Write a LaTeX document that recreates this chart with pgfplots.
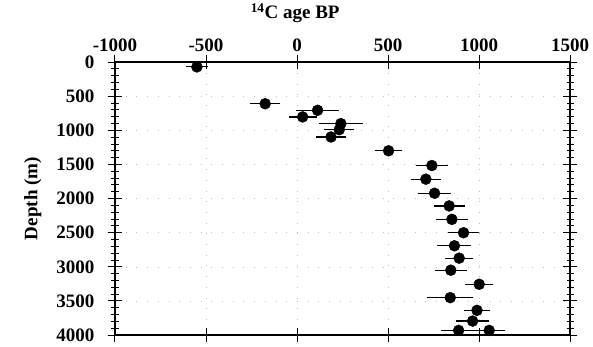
\documentclass[border=0pt]{standalone}
\usepackage{pgfplots}
\pgfplotsset{compat=1.18}
\usepackage{fontspec}
\setmainfont{Liberation Serif}
\pgfplotstableread{
x y ex
-550 70 45
-175 610 65
113 706 100
31 803 60
241 901 105
232 990 65
187 1097 68
503 1299 60
741 1515 73
708 1715 64
756 1921 72
836 2107 68
851 2304 71
915 2500 68
865 2691 77
891 2872 60
845 3049 71
1001 3255 60
842 3451 110
989 3637 53
965 3794 73
888 3931 78
1056 3931 72
}\datatable
\begin{document}
\begin{tikzpicture}
\begin{axis}[name=ax,
  scale only axis, width=455pt, height=273pt,
  xmin=-1000, xmax=1500, ymin=0, ymax=4000, y dir=reverse,
  xtick={-1000,-500,0,500,1000,1500},
  xticklabels={-1000,-500,0,500,1000,1500},
  xticklabel pos=top,
  ytick={0,500,...,4000}, minor y tick num=4,
  /pgf/number format/1000 sep={},
  /pgf/number format/assume math mode=true,
  tick align=center, major tick length=14pt, minor tick length=7pt,
  tick style={black, line width=1pt},
  axis line style={line width=1.6pt},
  ticklabel style={font=\fontsize{19}{19}\selectfont\bfseries},
  yticklabel style={xshift=-10pt},
  grid=major,
  major grid style={gray!50, line width=0.6pt, dash pattern=on 0.7pt off 10pt},
  xlabel={\textsuperscript{14}C age BP},
  ylabel={Depth (m)},
  label style={font=\fontsize{19}{19}\selectfont\bfseries},
  xlabel style={at={(0.396,1)}, anchor=south, yshift=36pt},
  ylabel style={at={(0,0.5)}, anchor=south, yshift=70pt},
  clip=false,
]
\addplot[only marks, mark=*, mark size=5.5pt, black,
  error bars/.cd, x dir=both, x explicit,
  error bar style={line width=1.2pt, black},
  error mark options={black, mark size=3pt, line width=1.2pt}]
  table[x=x, y=y, x error=ex] {\datatable};
\end{axis}
\path ([xshift=-115pt,yshift=-11pt]ax.south west) rectangle ([xshift=23pt,yshift=62pt]ax.north east);
\end{tikzpicture}
\end{document}
